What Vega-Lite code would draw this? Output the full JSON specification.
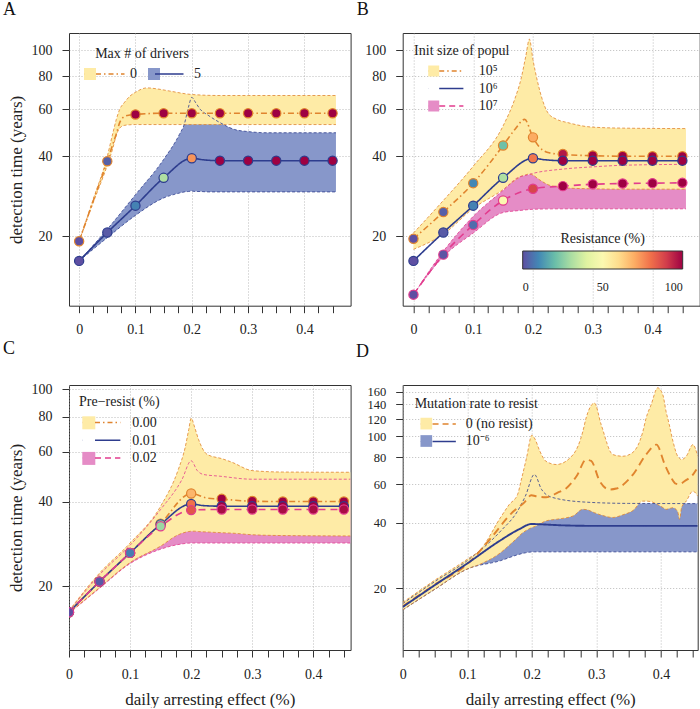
{
"$schema": "https://vega.github.io/schema/vega-lite/v6.json",
"background": "white",
"padding": {"left": 2, "top": 0, "right": 0, "bottom": 0},
"columns": 2,
"bounds": "flush",
"spacing": {"row": 79, "column": 51.7},
"resolve": {"scale": {"fill": "independent", "color": "independent", "stroke": "independent", "strokeDash": "independent"}, "legend": {"fill": "independent", "color": "independent", "stroke": "independent"}},
"datasets": {
"Ab": [
{"s":"5","x":0,"lo":16.2,"hi":16.2},{"s":"5","x":0.05,"lo":19.8,"hi":21.3},{"s":"5","x":0.1,"lo":24,"hi":28.7},{"s":"5","x":0.15,"lo":27.9,"hi":38.9},{"s":"5","x":0.178,"lo":29.1,"hi":48.3},{"s":"5","x":0.187,"lo":29.4,"hi":53},{"s":"5","x":0.194,"lo":29.5,"hi":61},{"s":"5","x":0.2,"lo":29.6,"hi":66.5},{"s":"5","x":0.207,"lo":29.5,"hi":63.5},{"s":"5","x":0.215,"lo":29.5,"hi":60},{"s":"5","x":0.229,"lo":29.4,"hi":57},{"s":"5","x":0.25,"lo":29.4,"hi":53.5},{"s":"5","x":0.276,"lo":29.4,"hi":50.4},{"s":"5","x":0.3,"lo":29.4,"hi":49.5},{"s":"5","x":0.335,"lo":29.4,"hi":49},{"s":"5","x":0.4,"lo":29.4,"hi":49},{"s":"5","x":0.456,"lo":29.4,"hi":49},
{"s":"0","x":0,"lo":19.2,"hi":19.2},{"s":"0","x":0.025,"lo":26.8,"hi":27.6},{"s":"0","x":0.05,"lo":37,"hi":40},{"s":"0","x":0.06,"lo":43,"hi":49},{"s":"0","x":0.066,"lo":48,"hi":55},{"s":"0","x":0.072,"lo":51,"hi":60},{"s":"0","x":0.08,"lo":52.2,"hi":63.5},{"s":"0","x":0.09,"lo":52.5,"hi":67.2},{"s":"0","x":0.1,"lo":52.6,"hi":69.5},{"s":"0","x":0.12,"lo":52.6,"hi":72.2},{"s":"0","x":0.14,"lo":52.6,"hi":71.5},{"s":"0","x":0.16,"lo":52.6,"hi":70.3},{"s":"0","x":0.2,"lo":52.6,"hi":68.2},{"s":"0","x":0.25,"lo":52.6,"hi":67.6},{"s":"0","x":0.3,"lo":52.6,"hi":67.6},{"s":"0","x":0.456,"lo":52.6,"hi":67.6}],
"Am": [
{"s":"0","x":0,"m":19.2},{"s":"0","x":0.025,"m":27.2},{"s":"0","x":0.05,"m":38.3},{"s":"0","x":0.06,"m":44.5},{"s":"0","x":0.066,"m":48.5},{"s":"0","x":0.072,"m":53.5},{"s":"0","x":0.08,"m":56.3},{"s":"0","x":0.09,"m":57.1},{"s":"0","x":0.1,"m":57.4},{"s":"0","x":0.15,"m":58},{"s":"0","x":0.2,"m":58},{"s":"0","x":0.3,"m":58},{"s":"0","x":0.45,"m":58},
{"s":"5","x":0,"m":16.2},{"s":"5","x":0.05,"m":20.7},{"s":"5","x":0.1,"m":26.1},{"s":"5","x":0.15,"m":33.2},{"s":"5","x":0.2,"m":39.3},{"s":"5","x":0.22,"m":38.8},{"s":"5","x":0.25,"m":38.5},{"s":"5","x":0.3,"m":38.5},{"s":"5","x":0.45,"m":38.5}],
"Ap": [
{"s":"0","x":0,"m":19.2,"r":0},{"s":"0","x":0.05,"m":38.3,"r":3},{"s":"0","x":0.1,"m":57.4,"r":100},{"s":"0","x":0.15,"m":58,"r":100},{"s":"0","x":0.2,"m":58,"r":100},{"s":"0","x":0.25,"m":58,"r":100},{"s":"0","x":0.3,"m":58,"r":100},{"s":"0","x":0.35,"m":58,"r":100},{"s":"0","x":0.4,"m":58,"r":100},{"s":"0","x":0.45,"m":58,"r":100},
{"s":"5","x":0,"m":16.2,"r":0},{"s":"5","x":0.05,"m":20.7,"r":2},{"s":"5","x":0.1,"m":26.1,"r":9},{"s":"5","x":0.15,"m":33.2,"r":31},{"s":"5","x":0.2,"m":39.3,"r":74},{"s":"5","x":0.25,"m":38.5,"r":100},{"s":"5","x":0.3,"m":38.5,"r":100},{"s":"5","x":0.35,"m":38.5,"r":100},{"s":"5","x":0.4,"m":38.5,"r":100},{"s":"5","x":0.45,"m":38.5,"r":100}],
"Bb": [
{"s":"10⁷","x":0,"lo":12.1,"hi":12.1},{"s":"10⁷","x":0.05,"lo":16.8,"hi":17.6},{"s":"10⁷","x":0.1,"lo":20.6,"hi":23.8},{"s":"10⁷","x":0.15,"lo":24.6,"hi":29.8},{"s":"10⁷","x":0.175,"lo":25,"hi":33.3},{"s":"10⁷","x":0.19,"lo":25.2,"hi":34},{"s":"10⁷","x":0.2,"lo":25.3,"hi":34.5},{"s":"10⁷","x":0.25,"lo":25.4,"hi":35.8},{"s":"10⁷","x":0.3,"lo":25.4,"hi":36.5},{"s":"10⁷","x":0.35,"lo":25.4,"hi":37},{"s":"10⁷","x":0.456,"lo":25.4,"hi":37.3},
{"s":"10⁵","x":0,"lo":17.9,"hi":20.6},{"s":"10⁵","x":0.05,"lo":20.4,"hi":27.3},{"s":"10⁵","x":0.1,"lo":25.5,"hi":36.7},{"s":"10⁵","x":0.15,"lo":30,"hi":52},{"s":"10⁵","x":0.17,"lo":32.5,"hi":66},{"s":"10⁵","x":0.18,"lo":33.6,"hi":78},{"s":"10⁵","x":0.188,"lo":34.1,"hi":95},{"s":"10⁵","x":0.194,"lo":34.3,"hi":110},{"s":"10⁵","x":0.2,"lo":34,"hi":92},{"s":"10⁵","x":0.208,"lo":33,"hi":75.6},{"s":"10⁵","x":0.215,"lo":32.2,"hi":66},{"s":"10⁵","x":0.225,"lo":31.3,"hi":58.2},{"s":"10⁵","x":0.24,"lo":30.7,"hi":55},{"s":"10⁵","x":0.258,"lo":30.4,"hi":53.5},{"s":"10⁵","x":0.297,"lo":30.2,"hi":51.5},{"s":"10⁵","x":0.35,"lo":30.1,"hi":51},{"s":"10⁵","x":0.456,"lo":30.1,"hi":50.8}],
"Bm": [
{"s":"10⁵","x":0,"m":19.6},{"s":"10⁵","x":0.05,"m":24.7},{"s":"10⁵","x":0.1,"m":31.7},{"s":"10⁵","x":0.15,"m":43.9},{"s":"10⁵","x":0.17,"m":50.5},{"s":"10⁵","x":0.186,"m":55},{"s":"10⁵","x":0.2,"m":47.1},{"s":"10⁵","x":0.21,"m":43.5},{"s":"10⁵","x":0.225,"m":41.3},{"s":"10⁵","x":0.25,"m":40.6},{"s":"10⁵","x":0.3,"m":40.2},{"s":"10⁵","x":0.35,"m":40},{"s":"10⁵","x":0.45,"m":40},
{"s":"10⁶","x":0,"m":16.2},{"s":"10⁶","x":0.05,"m":20.7},{"s":"10⁶","x":0.1,"m":26.1},{"s":"10⁶","x":0.15,"m":33.2},{"s":"10⁶","x":0.2,"m":39.3},{"s":"10⁶","x":0.22,"m":38.8},{"s":"10⁶","x":0.25,"m":38.5},{"s":"10⁶","x":0.3,"m":38.5},{"s":"10⁶","x":0.45,"m":38.5},
{"s":"10⁷","x":0,"m":12.1},{"s":"10⁷","x":0.05,"m":17.1},{"s":"10⁷","x":0.1,"m":22.1},{"s":"10⁷","x":0.15,"m":27.3},{"s":"10⁷","x":0.2,"m":30.2},{"s":"10⁷","x":0.25,"m":30.9},{"s":"10⁷","x":0.3,"m":31.4},{"s":"10⁷","x":0.35,"m":31.6},{"s":"10⁷","x":0.4,"m":31.7},{"s":"10⁷","x":0.45,"m":31.8}],
"Bp": [
{"s":"10⁵","x":0,"m":19.6,"r":0},{"s":"10⁵","x":0.05,"m":24.7,"r":3},{"s":"10⁵","x":0.1,"m":31.7,"r":10},{"s":"10⁵","x":0.15,"m":43.9,"r":21},{"s":"10⁵","x":0.2,"m":47.1,"r":70},{"s":"10⁵","x":0.25,"m":40.8,"r":96},{"s":"10⁵","x":0.3,"m":40.3,"r":100},{"s":"10⁵","x":0.35,"m":40.1,"r":100},{"s":"10⁵","x":0.4,"m":40,"r":100},{"s":"10⁵","x":0.45,"m":40,"r":100},
{"s":"10⁶","x":0,"m":16.2,"r":0},{"s":"10⁶","x":0.05,"m":20.7,"r":2},{"s":"10⁶","x":0.1,"m":26.1,"r":9},{"s":"10⁶","x":0.15,"m":33.2,"r":31},{"s":"10⁶","x":0.2,"m":39.3,"r":79},{"s":"10⁶","x":0.25,"m":38.5,"r":100},{"s":"10⁶","x":0.3,"m":38.5,"r":100},{"s":"10⁶","x":0.35,"m":38.5,"r":100},{"s":"10⁶","x":0.4,"m":38.5,"r":100},{"s":"10⁶","x":0.45,"m":38.5,"r":100},
{"s":"10⁷","x":0,"m":12.1,"r":0},{"s":"10⁷","x":0.05,"m":17.1,"r":1},{"s":"10⁷","x":0.1,"m":22.1,"r":5},{"s":"10⁷","x":0.15,"m":27.3,"r":50},{"s":"10⁷","x":0.2,"m":30.2,"r":88},{"s":"10⁷","x":0.25,"m":30.9,"r":100},{"s":"10⁷","x":0.3,"m":31.4,"r":100},{"s":"10⁷","x":0.35,"m":31.6,"r":100},{"s":"10⁷","x":0.4,"m":31.7,"r":100},{"s":"10⁷","x":0.45,"m":31.8,"r":100}],
"Cb": [
{"s":"0.02","x":0,"lo":16.05,"hi":16.3},{"s":"0.02","x":0.05,"lo":19.7,"hi":22},{"s":"0.02","x":0.1,"lo":24.1,"hi":28},{"s":"0.02","x":0.15,"lo":27.1,"hi":37.5},{"s":"0.02","x":0.185,"lo":28.3,"hi":47.9},{"s":"0.02","x":0.2,"lo":28.5,"hi":55.8},{"s":"0.02","x":0.21,"lo":28.5,"hi":51.5},{"s":"0.02","x":0.22,"lo":28.5,"hi":49.9},{"s":"0.02","x":0.247,"lo":28.5,"hi":49.2},{"s":"0.02","x":0.3,"lo":28.5,"hi":48},{"s":"0.02","x":0.461,"lo":28.5,"hi":48},
{"s":"0.00","x":0,"lo":16.1,"hi":16.4},{"s":"0.00","x":0.05,"lo":19.8,"hi":22.3},{"s":"0.00","x":0.1,"lo":24.3,"hi":28.5},{"s":"0.00","x":0.15,"lo":27.8,"hi":38.5},{"s":"0.00","x":0.179,"lo":30.5,"hi":52},{"s":"0.00","x":0.19,"lo":31.1,"hi":62},{"s":"0.00","x":0.196,"lo":31.3,"hi":72},{"s":"0.00","x":0.2,"lo":31.4,"hi":79},{"s":"0.00","x":0.206,"lo":31.4,"hi":73},{"s":"0.00","x":0.212,"lo":31.3,"hi":66.5},{"s":"0.00","x":0.226,"lo":31.2,"hi":58.8},{"s":"0.00","x":0.251,"lo":31,"hi":56.7},{"s":"0.00","x":0.267,"lo":30.9,"hi":55.1},{"s":"0.00","x":0.3,"lo":30.5,"hi":51.5},{"s":"0.00","x":0.35,"lo":30.3,"hi":50.9},{"s":"0.00","x":0.461,"lo":30.2,"hi":50.8}],
"Cm": [
{"s":"0.00","x":0,"m":16.2},{"s":"0.00","x":0.05,"m":20.8},{"s":"0.00","x":0.1,"m":26.3},{"s":"0.00","x":0.15,"m":33.4},{"s":"0.00","x":0.2,"m":42.7},{"s":"0.00","x":0.225,"m":41.2},{"s":"0.00","x":0.25,"m":40.8},{"s":"0.00","x":0.3,"m":40.1},{"s":"0.00","x":0.35,"m":40},{"s":"0.00","x":0.45,"m":40},
{"s":"0.01","x":0,"m":16.2},{"s":"0.01","x":0.05,"m":20.8},{"s":"0.01","x":0.1,"m":26.3},{"s":"0.01","x":0.15,"m":33.2},{"s":"0.01","x":0.2,"m":39.2},{"s":"0.01","x":0.22,"m":38.7},{"s":"0.01","x":0.25,"m":38.5},{"s":"0.01","x":0.3,"m":38.5},{"s":"0.01","x":0.45,"m":38.5},
{"s":"0.02","x":0,"m":16.2},{"s":"0.02","x":0.05,"m":20.8},{"s":"0.02","x":0.1,"m":26.3},{"s":"0.02","x":0.15,"m":32.7},{"s":"0.02","x":0.2,"m":37.3},{"s":"0.02","x":0.25,"m":37.5},{"s":"0.02","x":0.3,"m":37.5},{"s":"0.02","x":0.45,"m":37.5}],
"Cp": [
{"s":"0.00","x":0,"m":16.2,"r":0},{"s":"0.00","x":0.05,"m":20.8,"r":2},{"s":"0.00","x":0.1,"m":26.3,"r":8},{"s":"0.00","x":0.15,"m":33.4,"r":25},{"s":"0.00","x":0.2,"m":42.7,"r":68},{"s":"0.00","x":0.25,"m":40.9,"r":100},{"s":"0.00","x":0.3,"m":40.2,"r":100},{"s":"0.00","x":0.35,"m":40,"r":100},{"s":"0.00","x":0.4,"m":40,"r":100},{"s":"0.00","x":0.45,"m":40,"r":100},
{"s":"0.01","x":0,"m":16.2,"r":0},{"s":"0.01","x":0.05,"m":20.8,"r":2},{"s":"0.01","x":0.1,"m":26.3,"r":8},{"s":"0.01","x":0.15,"m":33.2,"r":27},{"s":"0.01","x":0.2,"m":39.2,"r":80},{"s":"0.01","x":0.25,"m":38.5,"r":100},{"s":"0.01","x":0.3,"m":38.5,"r":100},{"s":"0.01","x":0.35,"m":38.5,"r":100},{"s":"0.01","x":0.4,"m":38.5,"r":100},{"s":"0.01","x":0.45,"m":38.5,"r":100},
{"s":"0.02","x":0,"m":16.2,"r":0},{"s":"0.02","x":0.05,"m":20.8,"r":2},{"s":"0.02","x":0.1,"m":26.3,"r":8},{"s":"0.02","x":0.15,"m":32.7,"r":28},{"s":"0.02","x":0.2,"m":37.3,"r":85},{"s":"0.02","x":0.25,"m":37.5,"r":98},{"s":"0.02","x":0.3,"m":37.5,"r":98},{"s":"0.02","x":0.35,"m":37.5,"r":98},{"s":"0.02","x":0.4,"m":37.5,"r":98},{"s":"0.02","x":0.45,"m":37.5,"r":98}],
"Db": [
{"s":"10⁻⁶","x":0,"lo":15.9,"hi":17},{"s":"10⁻⁶","x":0.05,"lo":19.8,"hi":21.5},{"s":"10⁻⁶","x":0.1,"lo":24.5,"hi":26.8},{"s":"10⁻⁶","x":0.152,"lo":26.8,"hi":36.7},{"s":"10⁻⁶","x":0.178,"lo":28.5,"hi":45.3},{"s":"10⁻⁶","x":0.19,"lo":29.1,"hi":53},{"s":"10⁻⁶","x":0.204,"lo":29.4,"hi":66.7},{"s":"10⁻⁶","x":0.215,"lo":29.4,"hi":57},{"s":"10⁻⁶","x":0.23,"lo":29.4,"hi":52.5},{"s":"10⁻⁶","x":0.282,"lo":29.4,"hi":49.8},{"s":"10⁻⁶","x":0.35,"lo":29.4,"hi":49.1},{"s":"10⁻⁶","x":0.457,"lo":29.4,"hi":49},
{"s":"0 (no resist)","x":0,"lo":15.9,"hi":17.2},{"s":"0 (no resist)","x":0.05,"lo":19.8,"hi":21.8},{"s":"0 (no resist)","x":0.1,"lo":24.5,"hi":27.2},{"s":"0 (no resist)","x":0.12,"lo":25.8,"hi":30},{"s":"0 (no resist)","x":0.152,"lo":29.2,"hi":42.5},{"s":"0 (no resist)","x":0.165,"lo":31.5,"hi":48.5},{"s":"0 (no resist)","x":0.178,"lo":34.2,"hi":54},{"s":"0 (no resist)","x":0.1835,"lo":35.5,"hi":62.6},{"s":"0 (no resist)","x":0.192,"lo":37,"hi":80},{"s":"0 (no resist)","x":0.2,"lo":38,"hi":101},{"s":"0 (no resist)","x":0.205,"lo":38.5,"hi":97},{"s":"0 (no resist)","x":0.212,"lo":39.5,"hi":86},{"s":"0 (no resist)","x":0.222,"lo":40.8,"hi":76.7},{"s":"0 (no resist)","x":0.238,"lo":41.5,"hi":74.1},{"s":"0 (no resist)","x":0.264,"lo":43,"hi":82.3},{"s":"0 (no resist)","x":0.279,"lo":46.1,"hi":105},{"s":"0 (no resist)","x":0.284,"lo":46,"hi":121},{"s":"0 (no resist)","x":0.297,"lo":44.5,"hi":142},{"s":"0 (no resist)","x":0.3075,"lo":43.4,"hi":113},{"s":"0 (no resist)","x":0.3256,"lo":42.3,"hi":82.3},{"s":"0 (no resist)","x":0.341,"lo":43.5,"hi":80.9},{"s":"0 (no resist)","x":0.3566,"lo":45.5,"hi":84.3},{"s":"0 (no resist)","x":0.372,"lo":50.3,"hi":105},{"s":"0 (no resist)","x":0.377,"lo":50.3,"hi":121},{"s":"0 (no resist)","x":0.385,"lo":50,"hi":140},{"s":"0 (no resist)","x":0.395,"lo":48.5,"hi":167},{"s":"0 (no resist)","x":0.403,"lo":47,"hi":155},{"s":"0 (no resist)","x":0.408,"lo":46.1,"hi":130},{"s":"0 (no resist)","x":0.413,"lo":46.5,"hi":113},{"s":"0 (no resist)","x":0.4186,"lo":46.9,"hi":95},{"s":"0 (no resist)","x":0.426,"lo":45,"hi":80.9},{"s":"0 (no resist)","x":0.429,"lo":41.5,"hi":79},{"s":"0 (no resist)","x":0.432,"lo":47,"hi":78.1},{"s":"0 (no resist)","x":0.4393,"lo":50.3,"hi":80.9},{"s":"0 (no resist)","x":0.4496,"lo":55.9,"hi":91.5},{"s":"0 (no resist)","x":0.457,"lo":53.1,"hi":80.9}],
"Dm": [
{"s":"0 (no resist)","x":0,"m":16.5},{"s":"0 (no resist)","x":0.05,"m":20.8},{"s":"0 (no resist)","x":0.1,"m":25.8},{"s":"0 (no resist)","x":0.137,"m":34.1},{"s":"0 (no resist)","x":0.168,"m":44.1},{"s":"0 (no resist)","x":0.189,"m":49.8},{"s":"0 (no resist)","x":0.199,"m":53.5},{"s":"0 (no resist)","x":0.209,"m":52.8},{"s":"0 (no resist)","x":0.222,"m":52.4},{"s":"0 (no resist)","x":0.24,"m":55},{"s":"0 (no resist)","x":0.253,"m":57.5},{"s":"0 (no resist)","x":0.27,"m":66},{"s":"0 (no resist)","x":0.284,"m":78},{"s":"0 (no resist)","x":0.292,"m":77},{"s":"0 (no resist)","x":0.305,"m":62.3},{"s":"0 (no resist)","x":0.32,"m":56.9},{"s":"0 (no resist)","x":0.331,"m":57.5},{"s":"0 (no resist)","x":0.357,"m":66.8},{"s":"0 (no resist)","x":0.377,"m":82.3},{"s":"0 (no resist)","x":0.393,"m":91.5},{"s":"0 (no resist)","x":0.406,"m":74.1},{"s":"0 (no resist)","x":0.416,"m":64.4},{"s":"0 (no resist)","x":0.423,"m":60.5},{"s":"0 (no resist)","x":0.429,"m":60.2},{"s":"0 (no resist)","x":0.437,"m":62.3},{"s":"0 (no resist)","x":0.45,"m":66.8},{"s":"0 (no resist)","x":0.455,"m":70.3},
{"s":"10⁻⁶","x":0,"m":16.4},{"s":"10⁻⁶","x":0.05,"m":20.7},{"s":"10⁻⁶","x":0.1,"m":26},{"s":"10⁻⁶","x":0.15,"m":33},{"s":"10⁻⁶","x":0.18,"m":37.3},{"s":"10⁻⁶","x":0.2,"m":39.5},{"s":"10⁻⁶","x":0.21,"m":39.4},{"s":"10⁻⁶","x":0.25,"m":38.9},{"s":"10⁻⁶","x":0.3,"m":38.7},{"s":"10⁻⁶","x":0.457,"m":38.7}]
},
"concat": [
{
"width": 281.6, "height": 272.7,
"title": {"text": "A", "anchor": "start", "frame": "group", "dx": -66, "offset": 0, "baseline": "alphabetic"},
"layer": [
{"data": {"name": "Ab"}, "transform": [{"filter": "datum.s === '5'"}],
 "mark": {"type": "area", "interpolate": "monotone", "opacity": 1, "clip": true},
 "encoding": {
  "x": {"field": "x", "type": "quantitative", "scale": {"domain": [-0.018, 0.482], "nice": false, "zero": false}, "axis": {"values": [0,0.025,0.05,0.075,0.1,0.125,0.15,0.175,0.2,0.225,0.25,0.275,0.3,0.325,0.35,0.375,0.4,0.425,0.45], "labelExpr": "abs(datum.value*10 - round(datum.value*10)) < 0.0001 ? toString(round(datum.value*10)/10) : ''", "gridOpacity": {"condition": {"test": "abs(datum.value*10 - round(datum.value*10)) < 0.0001", "value": 1}, "value": 0}, "title": null}},
  "y": {"field": "lo", "type": "quantitative", "scale": {"type": "log", "domain": [11, 116], "nice": false}, "axis": {"values": [20,40,60,80,100], "title": "detection time (years)"}},
  "y2": {"field": "hi"},
  "fill": {"field": "s", "type": "nominal", "scale": {"domain": ["0","5"], "range": ["#FEEBA6","#8797CA"]},
    "legend": {"title": "Max # of drivers", "orient": "none", "legendX": 14, "legendY": 14, "direction": "horizontal", "columns": 2, "columnPadding": 10, "titleAnchor": "middle", "symbolSize": 144, "symbolType": "square", "symbolStrokeWidth": 1.5, "labelOffset": 33,
      "encode": {"symbols": {"update": {"stroke": {"signal": "datum.index === 0 ? '#E0842E' : '#2E3D8E'"}, "strokeWidth": {"value": 1.5}, "opacity": {"value": 1}}}}}}
 }},
{"data": {"name": "Ab"}, "transform": [{"filter": "datum.s === '0'"}],
 "mark": {"type": "area", "interpolate": "monotone", "opacity": 1, "clip": true},
 "encoding": {
  "x": {"field": "x", "type": "quantitative", "scale": {"domain": [-0.018, 0.482], "nice": false, "zero": false}, "axis": {"values": [0,0.025,0.05,0.075,0.1,0.125,0.15,0.175,0.2,0.225,0.25,0.275,0.3,0.325,0.35,0.375,0.4,0.425,0.45], "labelExpr": "abs(datum.value*10 - round(datum.value*10)) < 0.0001 ? toString(round(datum.value*10)/10) : ''", "gridOpacity": {"condition": {"test": "abs(datum.value*10 - round(datum.value*10)) < 0.0001", "value": 1}, "value": 0}, "title": null}},
  "y": {"field": "lo", "type": "quantitative", "scale": {"type": "log", "domain": [11, 116], "nice": false}, "axis": {"values": [20,40,60,80,100], "title": "detection time (years)"}},
  "y2": {"field": "hi"},
  "fill": {"field": "s", "type": "nominal", "scale": {"domain": ["0","5"], "range": ["#FEEBA6","#8797CA"]}, "legend": null}
 }},
{"data": {"name": "Ab"},
 "mark": {"type": "line", "interpolate": "monotone", "strokeWidth": 0.8, "strokeDash": [3,2], "clip": true},
 "encoding": {
  "x": {"field": "x", "type": "quantitative", "scale": {"domain": [-0.018, 0.482], "nice": false, "zero": false}, "axis": {"values": [0,0.025,0.05,0.075,0.1,0.125,0.15,0.175,0.2,0.225,0.25,0.275,0.3,0.325,0.35,0.375,0.4,0.425,0.45], "labelExpr": "abs(datum.value*10 - round(datum.value*10)) < 0.0001 ? toString(round(datum.value*10)/10) : ''", "gridOpacity": {"condition": {"test": "abs(datum.value*10 - round(datum.value*10)) < 0.0001", "value": 1}, "value": 0}, "title": null}},
  "y": {"field": "lo", "type": "quantitative", "scale": {"type": "log", "domain": [11, 116], "nice": false}, "axis": {"values": [20,40,60,80,100], "title": "detection time (years)"}},
  "stroke": {"field": "s", "type": "nominal", "scale": {"range": ["#E0842E","#2E3D8E"]}}
 }},
{"data": {"name": "Ab"},
 "mark": {"type": "line", "interpolate": "monotone", "strokeWidth": 0.8, "strokeDash": [3,2], "clip": true},
 "encoding": {
  "x": {"field": "x", "type": "quantitative", "scale": {"domain": [-0.018, 0.482], "nice": false, "zero": false}, "axis": {"values": [0,0.025,0.05,0.075,0.1,0.125,0.15,0.175,0.2,0.225,0.25,0.275,0.3,0.325,0.35,0.375,0.4,0.425,0.45], "labelExpr": "abs(datum.value*10 - round(datum.value*10)) < 0.0001 ? toString(round(datum.value*10)/10) : ''", "gridOpacity": {"condition": {"test": "abs(datum.value*10 - round(datum.value*10)) < 0.0001", "value": 1}, "value": 0}, "title": null}},
  "y": {"field": "hi", "type": "quantitative", "scale": {"type": "log", "domain": [11, 116], "nice": false}, "axis": {"values": [20,40,60,80,100], "title": "detection time (years)"}},
  "stroke": {"field": "s", "type": "nominal", "scale": {"range": ["#E0842E","#2E3D8E"]}}
 }},
{"data": {"name": "Am"},
 "mark": {"type": "line", "interpolate": "monotone", "strokeWidth": 1.6, "clip": true},
 "encoding": {
  "x": {"field": "x", "type": "quantitative", "scale": {"domain": [-0.018, 0.482], "nice": false, "zero": false}, "axis": {"values": [0,0.025,0.05,0.075,0.1,0.125,0.15,0.175,0.2,0.225,0.25,0.275,0.3,0.325,0.35,0.375,0.4,0.425,0.45], "labelExpr": "abs(datum.value*10 - round(datum.value*10)) < 0.0001 ? toString(round(datum.value*10)/10) : ''", "gridOpacity": {"condition": {"test": "abs(datum.value*10 - round(datum.value*10)) < 0.0001", "value": 1}, "value": 0}, "title": null}},
  "y": {"field": "m", "type": "quantitative", "scale": {"type": "log", "domain": [11, 116], "nice": false}, "axis": {"values": [20,40,60,80,100], "title": "detection time (years)"}},
  "stroke": {"field": "s", "type": "nominal", "scale": {"range": ["#E0842E","#2E3D8E"]},
    "legend": {"title": "\u2002", "titleColor": "rgba(0,0,0,0)", "labelColor": "rgba(0,0,0,0)", "labelExpr": "'\u2002'", "orient": "top-left", "offset": 14, "direction": "horizontal", "columns": 2, "columnPadding": 10, "titleAnchor": "middle", "symbolSize": 144, "symbolType": "M-1,0H-0.98M1,0H5.75", "symbolStrokeWidth": 1.5, "labelOffset": 33,
      "encode": {"symbols": {"update": {"strokeDash": {"signal": "datum.index === 0 ? [5,3,1.5,3] : [1,0]"}, "opacity": {"value": 1}}}}}},
  "strokeDash": {"field": "s", "type": "nominal", "scale": {"domain": ["0","5"], "range": [[6,3,1.5,3],[1,0]]}, "legend": null}
 }},
{"data": {"name": "Ap"},
 "mark": {"type": "point", "filled": true, "size": 85, "strokeWidth": 1.2, "opacity": 1, "clip": true},
 "encoding": {
  "x": {"field": "x", "type": "quantitative", "scale": {"domain": [-0.018, 0.482], "nice": false, "zero": false}, "axis": {"values": [0,0.025,0.05,0.075,0.1,0.125,0.15,0.175,0.2,0.225,0.25,0.275,0.3,0.325,0.35,0.375,0.4,0.425,0.45], "labelExpr": "abs(datum.value*10 - round(datum.value*10)) < 0.0001 ? toString(round(datum.value*10)/10) : ''", "gridOpacity": {"condition": {"test": "abs(datum.value*10 - round(datum.value*10)) < 0.0001", "value": 1}, "value": 0}, "title": null}},
  "y": {"field": "m", "type": "quantitative", "scale": {"type": "log", "domain": [11, 116], "nice": false}, "axis": {"values": [20,40,60,80,100], "title": "detection time (years)"}},
  "color": {"field": "r", "type": "quantitative", "scale": {"scheme": "spectral", "reverse": true, "domain": [0, 100]}, "legend": null},
  "stroke": {"field": "s", "type": "nominal", "scale": {"range": ["#E0842E","#2E3D8E"]}}
 }}
]
},
{
"width": 297, "height": 272.7,
"title": {"text": "B", "anchor": "start", "frame": "group", "dx": -46, "offset": 0, "baseline": "alphabetic"},
"layer": [
{"data": {"name": "Bb"}, "transform": [{"filter": "datum.s === '10⁷'"}],
 "mark": {"type": "area", "interpolate": "monotone", "opacity": 1, "clip": true},
 "encoding": {
  "x": {"field": "x", "type": "quantitative", "scale": {"domain": [-0.018, 0.479], "nice": false, "zero": false}, "axis": {"values": [0,0.025,0.05,0.075,0.1,0.125,0.15,0.175,0.2,0.225,0.25,0.275,0.3,0.325,0.35,0.375,0.4,0.425,0.45], "labelExpr": "abs(datum.value*10 - round(datum.value*10)) < 0.0001 ? toString(round(datum.value*10)/10) : ''", "gridOpacity": {"condition": {"test": "abs(datum.value*10 - round(datum.value*10)) < 0.0001", "value": 1}, "value": 0}, "title": null}},
  "y": {"field": "lo", "type": "quantitative", "scale": {"type": "log", "domain": [11, 116], "nice": false}, "axis": {"values": [20,40,60,80,100], "title": null}},
  "y2": {"field": "hi"},
  "fill": {"field": "s", "type": "nominal", "scale": {"domain": ["10⁵","10⁶","10⁷"], "range": ["#FEEBA6","rgba(0,0,0,0)","#E58CC6"]},
    "legend": {"title": "Init size of popul", "orient": "none", "legendX": 11, "legendY": 11, "direction": "vertical", "titleAnchor": "middle", "symbolSize": 121, "symbolType": "square", "symbolStrokeWidth": 1.5, "labelOffset": 38, "rowPadding": 3.5,
      "encode": {"symbols": {"update": {"stroke": {"signal": "datum.index === 0 ? '#E0842E' : datum.index === 1 ? 'rgba(0,0,0,0)' : '#E23C8E'"}, "strokeWidth": {"value": 1.5}, "opacity": {"value": 1}}}}}}
 }},
{"data": {"name": "Bb"}, "transform": [{"filter": "datum.s === '10⁵'"}],
 "mark": {"type": "area", "interpolate": "monotone", "opacity": 1, "clip": true},
 "encoding": {
  "x": {"field": "x", "type": "quantitative", "scale": {"domain": [-0.018, 0.479], "nice": false, "zero": false}, "axis": {"values": [0,0.025,0.05,0.075,0.1,0.125,0.15,0.175,0.2,0.225,0.25,0.275,0.3,0.325,0.35,0.375,0.4,0.425,0.45], "labelExpr": "abs(datum.value*10 - round(datum.value*10)) < 0.0001 ? toString(round(datum.value*10)/10) : ''", "gridOpacity": {"condition": {"test": "abs(datum.value*10 - round(datum.value*10)) < 0.0001", "value": 1}, "value": 0}, "title": null}},
  "y": {"field": "lo", "type": "quantitative", "scale": {"type": "log", "domain": [11, 116], "nice": false}, "axis": {"values": [20,40,60,80,100], "title": null}},
  "y2": {"field": "hi"},
  "fill": {"field": "s", "type": "nominal", "scale": {"domain": ["10⁵","10⁶","10⁷"], "range": ["#FEEBA6","rgba(0,0,0,0)","#E58CC6"]}, "legend": null}
 }},
{"data": {"name": "Bb"},
 "mark": {"type": "line", "interpolate": "monotone", "strokeWidth": 0.8, "strokeDash": [3,2], "clip": true},
 "encoding": {
  "x": {"field": "x", "type": "quantitative", "scale": {"domain": [-0.018, 0.479], "nice": false, "zero": false}, "axis": {"values": [0,0.025,0.05,0.075,0.1,0.125,0.15,0.175,0.2,0.225,0.25,0.275,0.3,0.325,0.35,0.375,0.4,0.425,0.45], "labelExpr": "abs(datum.value*10 - round(datum.value*10)) < 0.0001 ? toString(round(datum.value*10)/10) : ''", "gridOpacity": {"condition": {"test": "abs(datum.value*10 - round(datum.value*10)) < 0.0001", "value": 1}, "value": 0}, "title": null}},
  "y": {"field": "lo", "type": "quantitative", "scale": {"type": "log", "domain": [11, 116], "nice": false}, "axis": {"values": [20,40,60,80,100], "title": null}},
  "stroke": {"field": "s", "type": "nominal", "scale": {"range": ["#E0842E","#2E3D8E","#E23C8E"]}}
 }},
{"data": {"name": "Bb"},
 "mark": {"type": "line", "interpolate": "monotone", "strokeWidth": 0.8, "strokeDash": [3,2], "clip": true},
 "encoding": {
  "x": {"field": "x", "type": "quantitative", "scale": {"domain": [-0.018, 0.479], "nice": false, "zero": false}, "axis": {"values": [0,0.025,0.05,0.075,0.1,0.125,0.15,0.175,0.2,0.225,0.25,0.275,0.3,0.325,0.35,0.375,0.4,0.425,0.45], "labelExpr": "abs(datum.value*10 - round(datum.value*10)) < 0.0001 ? toString(round(datum.value*10)/10) : ''", "gridOpacity": {"condition": {"test": "abs(datum.value*10 - round(datum.value*10)) < 0.0001", "value": 1}, "value": 0}, "title": null}},
  "y": {"field": "hi", "type": "quantitative", "scale": {"type": "log", "domain": [11, 116], "nice": false}, "axis": {"values": [20,40,60,80,100], "title": null}},
  "stroke": {"field": "s", "type": "nominal", "scale": {"range": ["#E0842E","#2E3D8E","#E23C8E"]}}
 }},
{"data": {"name": "Bm"},
 "mark": {"type": "line", "interpolate": "monotone", "strokeWidth": 1.6, "clip": true},
 "encoding": {
  "x": {"field": "x", "type": "quantitative", "scale": {"domain": [-0.018, 0.479], "nice": false, "zero": false}, "axis": {"values": [0,0.025,0.05,0.075,0.1,0.125,0.15,0.175,0.2,0.225,0.25,0.275,0.3,0.325,0.35,0.375,0.4,0.425,0.45], "labelExpr": "abs(datum.value*10 - round(datum.value*10)) < 0.0001 ? toString(round(datum.value*10)/10) : ''", "gridOpacity": {"condition": {"test": "abs(datum.value*10 - round(datum.value*10)) < 0.0001", "value": 1}, "value": 0}, "title": null}},
  "y": {"field": "m", "type": "quantitative", "scale": {"type": "log", "domain": [11, 116], "nice": false}, "axis": {"values": [20,40,60,80,100], "title": null}},
  "stroke": {"field": "s", "type": "nominal", "scale": {"range": ["#E0842E","#2E3D8E","#E23C8E"]},
    "legend": {"title": "Init size of popul", "titleColor": "rgba(0,0,0,0)", "labelColor": "rgba(0,0,0,0)", "orient": "top-left", "offset": 11, "direction": "vertical", "titleAnchor": "middle", "symbolSize": 121, "symbolType": "M-1,0H-0.98M1,0H5.4", "symbolStrokeWidth": 1.5, "labelOffset": 38, "rowPadding": 3.5,
      "encode": {"symbols": {"update": {"strokeDash": {"signal": "datum.index === 0 ? [5,3,1.5,3] : datum.index === 1 ? [1,0] : [6,4]"}, "opacity": {"value": 1}}}}}},
  "strokeDash": {"field": "s", "type": "nominal", "scale": {"domain": ["10⁵","10⁶","10⁷"], "range": [[6,3,1.5,3],[1,0],[7,5]]}, "legend": null}
 }},
{"data": {"name": "Bp"},
 "mark": {"type": "point", "filled": true, "size": 85, "strokeWidth": 1.2, "opacity": 1, "clip": true},
 "encoding": {
  "x": {"field": "x", "type": "quantitative", "scale": {"domain": [-0.018, 0.479], "nice": false, "zero": false}, "axis": {"values": [0,0.025,0.05,0.075,0.1,0.125,0.15,0.175,0.2,0.225,0.25,0.275,0.3,0.325,0.35,0.375,0.4,0.425,0.45], "labelExpr": "abs(datum.value*10 - round(datum.value*10)) < 0.0001 ? toString(round(datum.value*10)/10) : ''", "gridOpacity": {"condition": {"test": "abs(datum.value*10 - round(datum.value*10)) < 0.0001", "value": 1}, "value": 0}, "title": null}},
  "y": {"field": "m", "type": "quantitative", "scale": {"type": "log", "domain": [11, 116], "nice": false}, "axis": {"values": [20,40,60,80,100], "title": null}},
  "color": {"field": "r", "type": "quantitative", "scale": {"scheme": "spectral", "reverse": true, "domain": [0, 100]},
    "legend": {"title": "Resistance (%)", "orient": "none", "legendX": 120, "legendY": 199, "direction": "horizontal", "gradientLength": 160, "gradientThickness": 18, "titleAnchor": "middle", "titlePadding": 5, "values": [0, 50, 100], "labelFontSize": 12, "labelOffset": 13, "gradientStrokeColor": "#333", "gradientStrokeWidth": 1,
      "encode": {"labels": {"update": {"align": {"value": "center"}}}}}},
  "stroke": {"field": "s", "type": "nominal", "scale": {"range": ["#E0842E","#2E3D8E","#E23C8E"]}}
 }}
]
},
{
"width": 281.6, "height": 265,
"title": {"text": "C", "anchor": "start", "frame": "group", "dx": -66, "offset": 10.5, "baseline": "alphabetic"},
"layer": [
{"data": {"name": "Cb"}, "transform": [{"filter": "datum.s === '0.02'"}],
 "mark": {"type": "area", "interpolate": "monotone", "opacity": 1, "clip": true},
 "encoding": {
  "x": {"field": "x", "type": "quantitative", "scale": {"domain": [0, 0.461], "nice": false, "zero": false}, "axis": {"values": [0,0.025,0.05,0.075,0.1,0.125,0.15,0.175,0.2,0.225,0.25,0.275,0.3,0.325,0.35,0.375,0.4,0.425,0.45], "labelExpr": "abs(datum.value*10 - round(datum.value*10)) < 0.0001 ? toString(round(datum.value*10)/10) : ''", "gridOpacity": {"condition": {"test": "abs(datum.value*10 - round(datum.value*10)) < 0.0001", "value": 1}, "value": 0}, "title": "daily arresting effect (%)"}},
  "y": {"field": "lo", "type": "quantitative", "scale": {"type": "log", "domain": [11.9, 103.6], "nice": false}, "axis": {"values": [20,40,60,80,100], "title": "detection time (years)"}},
  "y2": {"field": "hi"},
  "fill": {"field": "s", "type": "nominal", "scale": {"domain": ["0.00","0.01","0.02"], "range": ["#FEEBA6","rgba(0,0,0,0)","#E58CC6"]},
    "legend": {"title": "Pre−resist (%)", "orient": "none", "legendX": 10.3, "legendY": 10.3, "direction": "vertical", "titleAnchor": "middle", "symbolSize": 169, "symbolType": "square", "symbolStrokeWidth": 1.5, "labelOffset": 36, "rowPadding": 2.8,
      "encode": {"symbols": {"update": {"stroke": {"signal": "datum.index === 0 ? '#E0842E' : datum.index === 1 ? 'rgba(0,0,0,0)' : '#E23C8E'"}, "strokeWidth": {"value": 1.5}, "opacity": {"value": 1}}}}}}
 }},
{"data": {"name": "Cb"}, "transform": [{"filter": "datum.s === '0.00'"}],
 "mark": {"type": "area", "interpolate": "monotone", "opacity": 1, "clip": true},
 "encoding": {
  "x": {"field": "x", "type": "quantitative", "scale": {"domain": [0, 0.461], "nice": false, "zero": false}, "axis": {"values": [0,0.025,0.05,0.075,0.1,0.125,0.15,0.175,0.2,0.225,0.25,0.275,0.3,0.325,0.35,0.375,0.4,0.425,0.45], "labelExpr": "abs(datum.value*10 - round(datum.value*10)) < 0.0001 ? toString(round(datum.value*10)/10) : ''", "gridOpacity": {"condition": {"test": "abs(datum.value*10 - round(datum.value*10)) < 0.0001", "value": 1}, "value": 0}, "title": "daily arresting effect (%)"}},
  "y": {"field": "lo", "type": "quantitative", "scale": {"type": "log", "domain": [11.9, 103.6], "nice": false}, "axis": {"values": [20,40,60,80,100], "title": "detection time (years)"}},
  "y2": {"field": "hi"},
  "fill": {"field": "s", "type": "nominal", "scale": {"domain": ["0.00","0.01","0.02"], "range": ["#FEEBA6","rgba(0,0,0,0)","#E58CC6"]}, "legend": null}
 }},
{"data": {"name": "Cb"},
 "mark": {"type": "line", "interpolate": "monotone", "strokeWidth": 0.8, "strokeDash": [3,2], "clip": true},
 "encoding": {
  "x": {"field": "x", "type": "quantitative", "scale": {"domain": [0, 0.461], "nice": false, "zero": false}, "axis": {"values": [0,0.025,0.05,0.075,0.1,0.125,0.15,0.175,0.2,0.225,0.25,0.275,0.3,0.325,0.35,0.375,0.4,0.425,0.45], "labelExpr": "abs(datum.value*10 - round(datum.value*10)) < 0.0001 ? toString(round(datum.value*10)/10) : ''", "gridOpacity": {"condition": {"test": "abs(datum.value*10 - round(datum.value*10)) < 0.0001", "value": 1}, "value": 0}, "title": "daily arresting effect (%)"}},
  "y": {"field": "lo", "type": "quantitative", "scale": {"type": "log", "domain": [11.9, 103.6], "nice": false}, "axis": {"values": [20,40,60,80,100], "title": "detection time (years)"}},
  "stroke": {"field": "s", "type": "nominal", "scale": {"range": ["#E0842E","#2E3D8E","#E23C8E"]}}
 }},
{"data": {"name": "Cb"},
 "mark": {"type": "line", "interpolate": "monotone", "strokeWidth": 0.8, "strokeDash": [3,2], "clip": true},
 "encoding": {
  "x": {"field": "x", "type": "quantitative", "scale": {"domain": [0, 0.461], "nice": false, "zero": false}, "axis": {"values": [0,0.025,0.05,0.075,0.1,0.125,0.15,0.175,0.2,0.225,0.25,0.275,0.3,0.325,0.35,0.375,0.4,0.425,0.45], "labelExpr": "abs(datum.value*10 - round(datum.value*10)) < 0.0001 ? toString(round(datum.value*10)/10) : ''", "gridOpacity": {"condition": {"test": "abs(datum.value*10 - round(datum.value*10)) < 0.0001", "value": 1}, "value": 0}, "title": "daily arresting effect (%)"}},
  "y": {"field": "hi", "type": "quantitative", "scale": {"type": "log", "domain": [11.9, 103.6], "nice": false}, "axis": {"values": [20,40,60,80,100], "title": "detection time (years)"}},
  "stroke": {"field": "s", "type": "nominal", "scale": {"range": ["#E0842E","#2E3D8E","#E23C8E"]}}
 }},
{"data": {"name": "Cm"},
 "mark": {"type": "line", "interpolate": "monotone", "strokeWidth": 1.6, "clip": true},
 "encoding": {
  "x": {"field": "x", "type": "quantitative", "scale": {"domain": [0, 0.461], "nice": false, "zero": false}, "axis": {"values": [0,0.025,0.05,0.075,0.1,0.125,0.15,0.175,0.2,0.225,0.25,0.275,0.3,0.325,0.35,0.375,0.4,0.425,0.45], "labelExpr": "abs(datum.value*10 - round(datum.value*10)) < 0.0001 ? toString(round(datum.value*10)/10) : ''", "gridOpacity": {"condition": {"test": "abs(datum.value*10 - round(datum.value*10)) < 0.0001", "value": 1}, "value": 0}, "title": "daily arresting effect (%)"}},
  "y": {"field": "m", "type": "quantitative", "scale": {"type": "log", "domain": [11.9, 103.6], "nice": false}, "axis": {"values": [20,40,60,80,100], "title": "detection time (years)"}},
  "stroke": {"field": "s", "type": "nominal", "scale": {"range": ["#E0842E","#2E3D8E","#E23C8E"]},
    "legend": {"title": "Pre−resist (%)", "titleColor": "rgba(0,0,0,0)", "labelColor": "rgba(0,0,0,0)", "orient": "top-left", "offset": 10.3, "direction": "vertical", "titleAnchor": "middle", "symbolSize": 169, "symbolType": "M-1,0H-0.98M1,0H4.9", "symbolStrokeWidth": 1.5, "labelOffset": 36, "rowPadding": 2.8,
      "encode": {"symbols": {"update": {"strokeDash": {"signal": "datum.index === 0 ? [5,3,1.5,3] : datum.index === 1 ? [1,0] : [6,4]"}, "opacity": {"value": 1}}}}}},
  "strokeDash": {"field": "s", "type": "nominal", "scale": {"domain": ["0.00","0.01","0.02"], "range": [[6,3,1.5,3],[1,0],[7,5]]}, "legend": null}
 }},
{"data": {"name": "Cp"},
 "mark": {"type": "point", "filled": true, "size": 85, "strokeWidth": 1.2, "opacity": 1, "clip": true},
 "encoding": {
  "x": {"field": "x", "type": "quantitative", "scale": {"domain": [0, 0.461], "nice": false, "zero": false}, "axis": {"values": [0,0.025,0.05,0.075,0.1,0.125,0.15,0.175,0.2,0.225,0.25,0.275,0.3,0.325,0.35,0.375,0.4,0.425,0.45], "labelExpr": "abs(datum.value*10 - round(datum.value*10)) < 0.0001 ? toString(round(datum.value*10)/10) : ''", "gridOpacity": {"condition": {"test": "abs(datum.value*10 - round(datum.value*10)) < 0.0001", "value": 1}, "value": 0}, "title": "daily arresting effect (%)"}},
  "y": {"field": "m", "type": "quantitative", "scale": {"type": "log", "domain": [11.9, 103.6], "nice": false}, "axis": {"values": [20,40,60,80,100], "title": "detection time (years)"}},
  "color": {"field": "r", "type": "quantitative", "scale": {"scheme": "spectral", "reverse": true, "domain": [0, 100]}, "legend": null},
  "stroke": {"field": "s", "type": "nominal", "scale": {"range": ["#E0842E","#2E3D8E","#E23C8E"]}}
 }}
]
},
{
"width": 295, "height": 265,
"title": {"text": "D", "anchor": "start", "frame": "group", "dx": -46.7, "offset": 10, "baseline": "alphabetic"},
"layer": [
{"data": {"name": "Db"}, "transform": [{"filter": "datum.s === '10⁻⁶'"}],
 "mark": {"type": "area", "interpolate": "monotone", "opacity": 1, "clip": true},
 "encoding": {
  "x": {"field": "x", "type": "quantitative", "scale": {"domain": [0, 0.457], "nice": false, "zero": false}, "axis": {"values": [0,0.025,0.05,0.075,0.1,0.125,0.15,0.175,0.2,0.225,0.25,0.275,0.3,0.325,0.35,0.375,0.4,0.425,0.45], "labelExpr": "abs(datum.value*10 - round(datum.value*10)) < 0.0001 ? toString(round(datum.value*10)/10) : ''", "gridOpacity": {"condition": {"test": "abs(datum.value*10 - round(datum.value*10)) < 0.0001", "value": 1}, "value": 0}, "title": "daily arresting effect (%)"}},
  "y": {"field": "lo", "type": "quantitative", "scale": {"type": "log", "domain": [10.4, 172], "nice": false}, "axis": {"values": [20,40,60,80,100,120,140,160], "labelFontSize": 12.5, "title": null}},
  "y2": {"field": "hi"},
  "fill": {"field": "s", "type": "nominal", "scale": {"domain": ["0 (no resist)","10⁻⁶"], "range": ["#FEEBA6","#8797CA"]},
    "legend": {"title": "Mutation rate to resist", "orient": "none", "legendX": 11.6, "legendY": 11.6, "direction": "vertical", "titleAnchor": "middle", "symbolSize": 137, "symbolType": "square", "symbolStrokeWidth": 1.5, "labelOffset": 32.5, "rowPadding": 3.4,
      "encode": {"symbols": {"update": {"stroke": {"signal": "datum.index === 0 ? '#E0842E' : '#2E3D8E'"}, "strokeWidth": {"value": 1.5}, "opacity": {"value": 1}}}}}}
 }},
{"data": {"name": "Db"}, "transform": [{"filter": "datum.s === '0 (no resist)'"}],
 "mark": {"type": "area", "interpolate": "monotone", "opacity": 1, "clip": true},
 "encoding": {
  "x": {"field": "x", "type": "quantitative", "scale": {"domain": [0, 0.457], "nice": false, "zero": false}, "axis": {"values": [0,0.025,0.05,0.075,0.1,0.125,0.15,0.175,0.2,0.225,0.25,0.275,0.3,0.325,0.35,0.375,0.4,0.425,0.45], "labelExpr": "abs(datum.value*10 - round(datum.value*10)) < 0.0001 ? toString(round(datum.value*10)/10) : ''", "gridOpacity": {"condition": {"test": "abs(datum.value*10 - round(datum.value*10)) < 0.0001", "value": 1}, "value": 0}, "title": "daily arresting effect (%)"}},
  "y": {"field": "lo", "type": "quantitative", "scale": {"type": "log", "domain": [10.4, 172], "nice": false}, "axis": {"values": [20,40,60,80,100,120,140,160], "labelFontSize": 12.5, "title": null}},
  "y2": {"field": "hi"},
  "fill": {"field": "s", "type": "nominal", "scale": {"domain": ["0 (no resist)","10⁻⁶"], "range": ["#FEEBA6","#8797CA"]}, "legend": null}
 }},
{"data": {"name": "Db"},
 "mark": {"type": "line", "interpolate": "monotone", "strokeWidth": 0.8, "strokeDash": [3,2], "clip": true},
 "encoding": {
  "x": {"field": "x", "type": "quantitative", "scale": {"domain": [0, 0.457], "nice": false, "zero": false}, "axis": {"values": [0,0.025,0.05,0.075,0.1,0.125,0.15,0.175,0.2,0.225,0.25,0.275,0.3,0.325,0.35,0.375,0.4,0.425,0.45], "labelExpr": "abs(datum.value*10 - round(datum.value*10)) < 0.0001 ? toString(round(datum.value*10)/10) : ''", "gridOpacity": {"condition": {"test": "abs(datum.value*10 - round(datum.value*10)) < 0.0001", "value": 1}, "value": 0}, "title": "daily arresting effect (%)"}},
  "y": {"field": "lo", "type": "quantitative", "scale": {"type": "log", "domain": [10.4, 172], "nice": false}, "axis": {"values": [20,40,60,80,100,120,140,160], "labelFontSize": 12.5, "title": null}},
  "stroke": {"field": "s", "type": "nominal", "scale": {"range": ["#E0842E","#2E3D8E"]}}
 }},
{"data": {"name": "Db"},
 "mark": {"type": "line", "interpolate": "monotone", "strokeWidth": 0.8, "strokeDash": [3,2], "clip": true},
 "encoding": {
  "x": {"field": "x", "type": "quantitative", "scale": {"domain": [0, 0.457], "nice": false, "zero": false}, "axis": {"values": [0,0.025,0.05,0.075,0.1,0.125,0.15,0.175,0.2,0.225,0.25,0.275,0.3,0.325,0.35,0.375,0.4,0.425,0.45], "labelExpr": "abs(datum.value*10 - round(datum.value*10)) < 0.0001 ? toString(round(datum.value*10)/10) : ''", "gridOpacity": {"condition": {"test": "abs(datum.value*10 - round(datum.value*10)) < 0.0001", "value": 1}, "value": 0}, "title": "daily arresting effect (%)"}},
  "y": {"field": "hi", "type": "quantitative", "scale": {"type": "log", "domain": [10.4, 172], "nice": false}, "axis": {"values": [20,40,60,80,100,120,140,160], "labelFontSize": 12.5, "title": null}},
  "stroke": {"field": "s", "type": "nominal", "scale": {"range": ["#E0842E","#2E3D8E"]}}
 }},
{"data": {"name": "Dm"},
 "mark": {"type": "line", "interpolate": "monotone", "strokeWidth": 1.9, "clip": true},
 "encoding": {
  "x": {"field": "x", "type": "quantitative", "scale": {"domain": [0, 0.457], "nice": false, "zero": false}, "axis": {"values": [0,0.025,0.05,0.075,0.1,0.125,0.15,0.175,0.2,0.225,0.25,0.275,0.3,0.325,0.35,0.375,0.4,0.425,0.45], "labelExpr": "abs(datum.value*10 - round(datum.value*10)) < 0.0001 ? toString(round(datum.value*10)/10) : ''", "gridOpacity": {"condition": {"test": "abs(datum.value*10 - round(datum.value*10)) < 0.0001", "value": 1}, "value": 0}, "title": "daily arresting effect (%)"}},
  "y": {"field": "m", "type": "quantitative", "scale": {"type": "log", "domain": [10.4, 172], "nice": false}, "axis": {"values": [20,40,60,80,100,120,140,160], "labelFontSize": 12.5, "title": null}},
  "stroke": {"field": "s", "type": "nominal", "scale": {"range": ["#E0842E","#2E3D8E"]},
    "legend": {"title": "Mutation rate to resist", "titleColor": "rgba(0,0,0,0)", "labelColor": "rgba(0,0,0,0)", "orient": "top-left", "offset": 11.6, "direction": "vertical", "titleAnchor": "middle", "symbolSize": 137, "symbolType": "M-1,0H-0.98M1,0H4.98", "symbolStrokeWidth": 1.5, "labelOffset": 32.5, "rowPadding": 3.4,
      "encode": {"symbols": {"update": {"strokeDash": {"signal": "datum.index === 0 ? [6,4] : [1,0]"}, "opacity": {"value": 1}}}}}},
  "strokeDash": {"field": "s", "type": "nominal", "scale": {"domain": ["0 (no resist)","10⁻⁶"], "range": [[8,5],[1,0]]}, "legend": null}
 }}
]
}
],
"config": {
 "font": "Liberation Serif",
 "view": {"stroke": "#333333", "strokeWidth": 1},
 "axis": {"labelFont": "Liberation Serif", "labelFontSize": 14, "labelColor": "#222222", "titleFont": "Liberation Serif", "titleFontSize": 17, "titleFontWeight": "normal", "titleColor": "#222222", "tickColor": "#333333", "tickSize": 7, "labelPadding": 10, "domain": false, "grid": true, "gridColor": "#aaaaaa", "gridDash": [1,2], "gridWidth": 0.8, "labelFlush": false, "labelOverlap": false, "labelBound": false},
 "axisY": {"titlePadding": 6},
 "axisX": {"titlePadding": 10},
 "legend": {"labelFont": "Liberation Serif", "labelFontSize": 14, "labelColor": "#222222", "titleFont": "Liberation Serif", "titleFontSize": 14, "titleFontWeight": "normal", "titleColor": "#222222", "padding": 0, "titlePadding": 6, "labelLimit": 250, "titleLimit": 300},
 "title": {"font": "Liberation Serif", "fontSize": 18, "fontWeight": "normal", "color": "#111111"}
}
}
